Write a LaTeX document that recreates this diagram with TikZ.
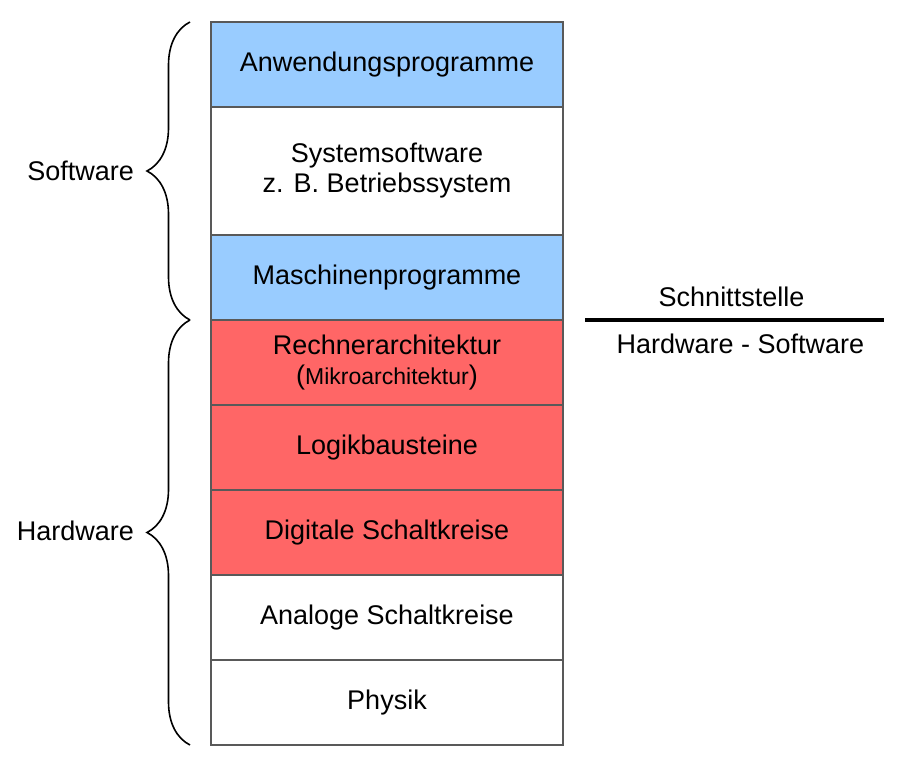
\documentclass[tikz,border=0pt]{standalone}
\usepackage{fontspec}
\setmainfont{Liberation Sans}
\usetikzlibrary{positioning,decorations.pathreplacing}
\definecolor{swblue}{RGB}{153,204,255}
\definecolor{hwred}{RGB}{255,102,102}

\begin{document}
\begin{tikzpicture}[x=1pt,y=-1pt,node distance=0pt,font=\fontsize{27}{30}\selectfont,
    layer/.style={rectangle,draw=black!65,line width=1.2pt,outer sep=0pt,inner sep=0pt,minimum width=352pt,minimum height=85pt,align=center},
    sw layer/.style={layer,fill=swblue}, hw layer/.style={layer,fill=hwred},
    curly/.style={line width=1.6pt,decorate,decoration={brace,amplitude=43pt}}]

  \useasboundingbox (0,0) rectangle (906,765);

  \node[sw layer,anchor=north]          (anw) at (387,22) {Anwendungsprogramme};
  \node[layer,minimum height=128pt]     (sys) [below=of anw] {Systemsoftware\\z. B. Betriebssystem};
  \node[sw layer]                       (masch) [below=of sys] {Maschinenprogramme};
  \node[hw layer]                       (rech) [below=of masch] {Rechnerarchitektur\\({\fontsize{23}{24}\selectfont Mikroarchitektur})};
  \node[hw layer]                       (logik) [below=of rech] {Logikbausteine};
  \node[hw layer]                       (digit) [below=of logik] {Digitale Schaltkreise};
  \node[layer]                          (analog) [below=of digit] {Analoge Schaltkreise};
  \node[layer]                          (phys) [below=of analog] {Physik};

  \draw[curly] ([xshift=-21pt]masch.south west) -- ([xshift=-21pt]anw.north west)
        node[midway,left=52pt] (swlabel) {Software};
  \draw[curly] ([xshift=-21pt]phys.south west) -- ([xshift=-21pt]rech.north west)
        node[midway,left=52pt,yshift=2pt] (hwlabel) {Hardware};

  \coordinate (ifl) at ([xshift=22pt]masch.south east);
  \coordinate (ifr) at ([xshift=321pt]masch.south east);
  \draw[line width=3.5pt] (ifl) -- (ifr)
        node[midway,above=8pt,xshift=-3pt] (iftop) {Schnittstelle}
        node[midway,below=9pt,xshift=6pt] (ifbot) {Hardware - Software};

\end{tikzpicture}
\end{document}
